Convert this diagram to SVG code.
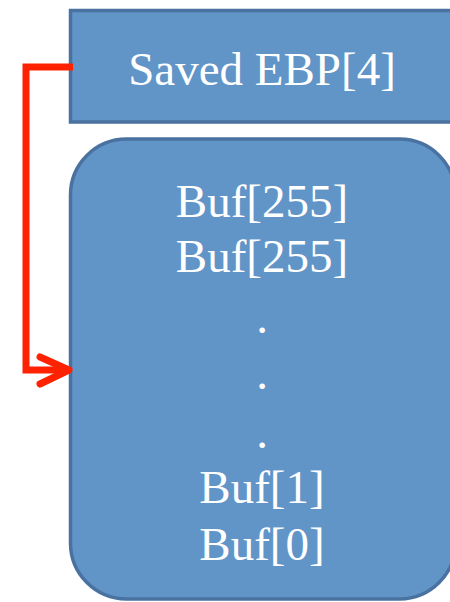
<svg xmlns="http://www.w3.org/2000/svg" width="450" height="602" viewBox="0 0 450 602">
  <style>
    .box { fill: #6195c8; stroke: #4a72a0; stroke-width: 3.5; }
    .label { font-family: "Liberation Serif", "Times New Roman", serif; font-size: 47px; fill: #ffffff; text-anchor: middle; }
    .link { fill: none; stroke: #ff2200; stroke-width: 7; }
  </style>
  <rect width="450" height="602" fill="#ffffff"/>

  <g id="saved-ebp">
    <rect class="box" x="70.5" y="10.5" width="400" height="111.5"/>
    <text class="label" x="262" y="85">Saved EBP[4]</text>
  </g>

  <g id="buffer">
    <rect class="box" x="70.5" y="139" width="385" height="460" rx="56" ry="56"/>
    <text class="label" x="262" y="217">Buf[255]</text>
    <text class="label" x="262" y="272">Buf[255]</text>
    <text class="label" x="262" y="333">.</text>
    <text class="label" x="262" y="389">.</text>
    <text class="label" x="262" y="448">.</text>
    <text class="label" x="262" y="503">Buf[1]</text>
    <text class="label" x="262" y="560">Buf[0]</text>
  </g>

  <g id="connectors">
    <path class="link" stroke-linejoin="miter" d="M73 67 H26 V370 H68"/>
    <path class="link" stroke-linecap="round" stroke-linejoin="round" d="M40 357 L69 370 L40 384"/>
  </g>
</svg>
